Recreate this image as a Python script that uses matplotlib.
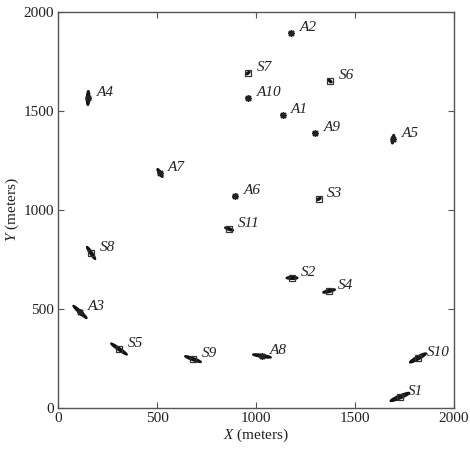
import matplotlib
matplotlib.use("Agg")
import matplotlib.pyplot as plt
from matplotlib.patches import Ellipse

plt.rcParams['font.family'] = ['Liberation Serif', 'DejaVu Serif']
plt.rcParams['mathtext.fontset'] = 'custom'
plt.rcParams['mathtext.it'] = 'Liberation Serif:italic'
plt.rcParams['mathtext.rm'] = 'Liberation Serif'

# Anchors
anchor_names = ['A1', 'A2', 'A3', 'A4', 'A5', 'A6', 'A7', 'A8', 'A9', 'A10']
anchor_x = [1136, 1177, 111, 152, 1692, 894, 515, 1030, 1298, 960]
anchor_y = [1480, 1894, 485, 1566, 1358, 1071, 1187, 263, 1389, 1566]
anchor_len = [18, 18, 92, 72, 45, 22, 48, 92, 18, 18]
anchor_wid = [10, 10, 12, 14, 12, 10, 12, 12, 10, 10]
anchor_ang = [0, 0, -43, 88, 80, 30, -58, -9, 0, 0]

# Sensors
sensor_names = ['S1', 'S2', 'S3', 'S4', 'S5', 'S6', 'S7', 'S8', 'S9', 'S10', 'S11']
sensor_x = [1727, 1182, 1318, 1369, 308, 1374, 960, 167, 682, 1818, 864]
sensor_y = [56, 657, 1056, 591, 298, 1651, 1692, 783, 247, 253, 904]
sensor_len = [104, 56, 20, 62, 98, 20, 20, 75, 86, 94, 44]
sensor_wid = [16, 12, 8, 12, 12, 8, 8, 12, 12, 16, 10]
sensor_ang = [23, 0, 30, 14, -35, -40, 40, -56, -20, 29, -20]

fig = plt.figure(figsize=(4.7, 4.5), dpi=100)
ax = fig.add_axes([0.1234, 0.0933, 0.8426, 0.88])

for x, y, l, w, a in zip(anchor_x, anchor_y, anchor_len, anchor_wid, anchor_ang):
    ax.add_patch(Ellipse((x, y), l, w, angle=a, facecolor='#222222',
                         edgecolor='#111111', lw=1.3, zorder=2))
for x, y, l, w, a in zip(sensor_x, sensor_y, sensor_len, sensor_wid, sensor_ang):
    ax.add_patch(Ellipse((x, y), l, w, angle=a, facecolor='#222222',
                         edgecolor='#111111', lw=1.3, zorder=3))

ax.plot(sensor_x, sensor_y, linestyle='none', marker='s', markersize=4.5,
        markerfacecolor='none', markeredgecolor='#333333', markeredgewidth=0.9, zorder=4)
ax.plot(anchor_x, anchor_y, linestyle='none', marker=(8, 2, 0), markersize=5,
        color='#222222', markeredgewidth=1.0, zorder=4)

for n, x, y in zip(anchor_names + sensor_names, anchor_x + sensor_x, anchor_y + sensor_y):
    ax.annotate(n, (x, y), xytext=(6, 4), textcoords='offset points',
                ha='left', va='center', fontsize=11, style='italic', color='#222222')

ax.set_xlim(0, 2000)
ax.set_ylim(0, 2000)
ax.set_xticks([0, 500, 1000, 1500, 2000])
ax.set_yticks([0, 500, 1000, 1500, 2000])
ax.tick_params(direction='in', top=True, right=True, labelsize=11, length=4,
               color='#555555', labelcolor='#222222', pad=3)
for s in ax.spines.values():
    s.set_color('#555555')
    s.set_linewidth(1.0)
ax.set_xlabel(r'$X$ (meters)', fontsize=11, color='#222222', labelpad=1)
ax.set_ylabel(r'$Y$ (meters)', fontsize=11, color='#222222', labelpad=2)

fig.savefig('out.png', dpi=100)
